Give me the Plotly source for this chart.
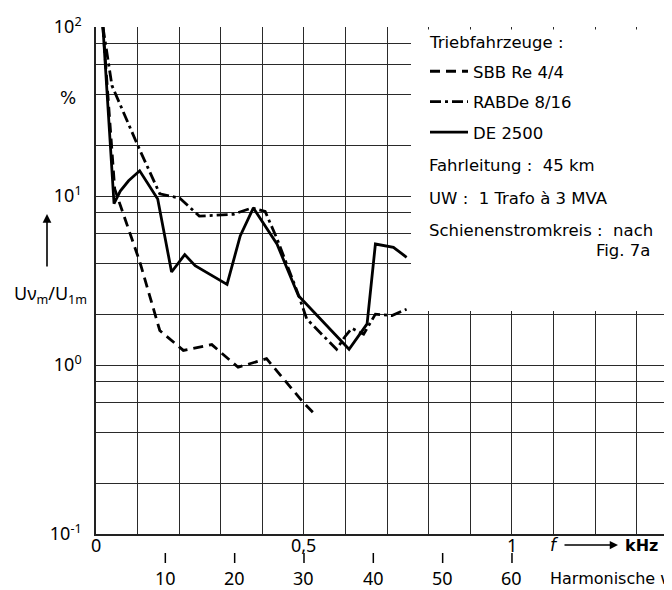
import plotly.graph_objects as go

# ---- data ----
harm_sbb = [1, 2.7, 6.3, 9.2, 12.6, 16.7, 20.5, 24.6, 29.9, 31.8]
val_sbb = [100, 11, 4.1, 1.6, 1.22, 1.32, 0.97, 1.09, 0.6, 0.5]

harm_rab = [1, 2.3, 6, 9.2, 12.1, 14.9, 19.8, 22.5, 24.4, 26.1, 29.2, 30.4, 34.7,
            35.9, 36.9, 38.6, 40.3, 42.7, 44.8]
val_rab = [100, 45, 20, 10.3, 9.7, 7.6, 7.8, 8.5, 8.1, 5.6, 2.6, 1.87, 1.24,
           1.47, 1.65, 1.52, 2.0, 1.96, 2.14]

harm_de = [1, 2.6, 3.5, 4.7, 6.3, 8.9, 10.9, 12.8, 14.3, 18.9, 20.8, 22.7, 26.1,
           29.2, 36.5, 39.1, 40.3, 42.9, 44.8]
val_de = [100, 9.0, 10.7, 12.3, 14.1, 9.6, 3.55, 4.5, 3.87, 3.0, 5.8, 8.5, 5.2,
          2.57, 1.24, 1.75, 5.2, 4.97, 4.34]

series_names = ["SBB Re 4/4", "RABDe 8/16", "DE 2500"]

y_grid_vals = [0.1, 0.2, 0.4, 0.6, 0.8, 1, 2, 4, 6, 8, 10, 20, 40, 60, 80, 100]
y_grid_text = ["10<sup>-1</sup>", "", "", "", "", "10<sup>0</sup>", "", "", "", "",
               "10<sup>1</sup>", "", "", "", "", "10<sup>2</sup>"]

harm_tick_vals = [10, 20, 30, 40, 50, 60]
khz_tick_vals = [0, 30, 60]
khz_tick_text = ["0", "0,5", "1"]

legend_title = "Triebfahrzeuge :"
legend_notes = ["Fahrleitung :  45 km", "UW :  1 Trafo à 3 MVA", "Schienenstromkreis :  nach"]

FONT = "DejaVu Sans"
NUMFONT = "Noto Sans"
OFF = 8                      # page body margin
W, H = 672 - OFF, 590 - OFF
L, T, B, R = 96 - OFF, 27 - OFF, 56, 0
PH = H - T - B
PW = W - L - R
PXH = PW / 83.08             # pixels per harmonic
XMAX = PW / PXH

def py(pix):                 # page pixel y -> paper
    return (534 - pix) / PH

def px(pix):                 # page pixel x -> paper
    return (pix - 96) / PW

def hx(pix):                 # page pixel x -> data x
    return (pix - 96) / PXH

fig = go.Figure()
dashes = ["10px,6px", "11px,4px,3px,4px", "solid"]
for name, xs, ys, d in zip(series_names, [harm_sbb, harm_rab, harm_de],
                           [val_sbb, val_rab, val_de], dashes):
    fig.add_trace(go.Scatter(x=xs, y=ys, mode="lines", name=name, legendgroup=name,
                             line=dict(color="black", width=2.8, dash=d)))

fig.update_layout(
    width=W, height=H,
    margin=dict(l=L, r=R, t=T, b=B),
    paper_bgcolor="white", plot_bgcolor="white",
    font=dict(family=FONT, size=16, color="black"),
    showlegend=True,
    legend=dict(x=px(425), y=py(54), xanchor="left", yanchor="top",
                bgcolor="rgba(0,0,0,0)", font=dict(size=16.5, family=FONT),
                tracegroupgap=6, itemwidth=38),
    xaxis=dict(range=[0, XMAX], tick0=0, dtick=6, showgrid=True, gridcolor="#2a2a2a",
               gridwidth=1.2, showticklabels=False, ticks="", zeroline=False,
               showline=True, linecolor="#222", linewidth=1.5, fixedrange=True),
    yaxis=dict(type="log", range=[-1, 2], tickvals=y_grid_vals, ticktext=y_grid_text,
               showgrid=True, gridcolor="#2a2a2a", gridwidth=1.2, ticks="",
               tickfont=dict(size=18, family=NUMFONT), ticklabelstandoff=9,
               showline=True, linecolor="#222", linewidth=1.5, zeroline=False,
               fixedrange=True),
)

# white box behind the legend text
fig.add_shape(type="rect", xref="x", yref="paper", x0=hx(411), x1=XMAX + 5,
              y0=py(311), y1=py(29.5), fillcolor="white", line=dict(width=0),
              layer="above")

ann = []
for v, t in zip(khz_tick_vals, khz_tick_text):
    ann.append(dict(x=v, y=py(545), xref="x", yref="paper", text=t, showarrow=False,
                    font=dict(size=18, family=NUMFONT), xanchor="center", yanchor="middle"))
for v in harm_tick_vals:
    fig.add_shape(type="line", xref="x", yref="paper", x0=v, x1=v,
                  y0=py(553), y1=py(563), line=dict(color="black", width=1.5))
    ann.append(dict(x=v, y=py(578), xref="x", yref="paper", text=str(v), showarrow=False,
                    font=dict(size=18, family=NUMFONT), xanchor="center", yanchor="middle"))
# f --> kHz
ann.append(dict(x=hx(554), y=py(545), xref="x", yref="paper", text="<i>f</i>",
                showarrow=False, font=dict(size=17), xanchor="center", yanchor="middle"))
ann.append(dict(x=hx(618), y=py(545), xref="x", yref="paper", text="",
                showarrow=True, ax=-55, ay=0, arrowhead=2, arrowsize=1.1, arrowwidth=1.5,
                arrowcolor="black"))
ann.append(dict(x=hx(623), y=py(545), xref="x", yref="paper", text="<b>kHz</b>",
                showarrow=False, font=dict(size=16), xanchor="left", yanchor="middle"))
ann.append(dict(x=hx(548), y=py(578), xref="x", yref="paper",
                text="Harmonische ν", showarrow=False, font=dict(size=16),
                xanchor="left", yanchor="middle"))
# y axis title, %, arrow
ann.append(dict(x=px(50), y=py(294), xref="paper", yref="paper",
                text="Uν<sub>m</sub>/U<sub>1m</sub>", showarrow=False,
                font=dict(size=18, family=NUMFONT), xanchor="center", yanchor="middle"))
ann.append(dict(x=px(68), y=py(98), xref="paper", yref="paper", text="%",
                showarrow=False, font=dict(size=17), xanchor="center", yanchor="middle"))
ann.append(dict(x=px(47), y=py(214), xref="paper", yref="paper", text="",
                showarrow=True, ax=0, ay=54, arrowhead=2, arrowsize=1.1, arrowwidth=1.6,
                arrowcolor="black"))
# legend title and notes
ann.append(dict(x=px(427), y=py(42), xref="paper", yref="paper", text=legend_title,
                showarrow=False, font=dict(size=16.5), xanchor="left", yanchor="middle"))
for i, t in enumerate(legend_notes):
    ann.append(dict(x=px(427), y=py([166, 199, 230][i]), xref="paper", yref="paper",
                    text=t, showarrow=False, font=dict(size=16.5), xanchor="left",
                    yanchor="middle"))
ann.append(dict(x=px(652), y=py(250), xref="paper", yref="paper", text="Fig. 7a",
                showarrow=False, font=dict(size=16.5), xanchor="right", yanchor="middle"))
fig.update_layout(annotations=ann)

fig.write_html("out.html")
